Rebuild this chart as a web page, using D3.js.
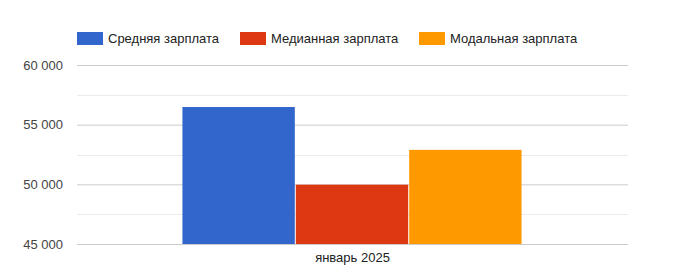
<!DOCTYPE html>
<html>
<head>
<meta charset="utf-8">
<script src="https://cdn.jsdelivr.net/npm/d3@7"></script>
<style>
  body { margin: 0; background: #fff; }
  svg { font-family: "Liberation Sans", Arial, sans-serif; }
</style>
</head>
<body>
<div id="chart"></div>
<script>
const categories = ['январь 2025'];
const seriesNames = ['Средняя зарплата', 'Медианная зарплата', 'Модальная зарплата'];
const seriesColors = ['#3366cc', '#dc3912', '#ff9900'];
const values = [[56480], [49970], [52890]];
const yTicks = [45000, 50000, 55000, 60000];
const yMinor = [47500, 52500, 57500];

const W = 693, H = 275;
const m = {top: 65, right: 65, bottom: 31, left: 77};
const w = W - m.left - m.right;
const h = H - m.top - m.bottom;

const svg = d3.select('#chart').append('svg')
  .attr('width', W).attr('height', H);

const g = svg.append('g').attr('transform', 'translate(' + m.left + ',' + m.top + ')');

const y = d3.scaleLinear().domain([45000, 60000]).range([h, 0]);
const x0 = d3.scaleBand().domain(categories).range([0, w]).paddingInner(0).paddingOuter(0.31);
const x1 = d3.scaleBand().domain(seriesNames).range([0, x0.bandwidth()]);

// minor grid
g.selectAll('.minor').data(yMinor).enter().append('line')
  .attr('x1', 0).attr('x2', w)
  .attr('y1', d => Math.round(y(d)) + 0.5).attr('y2', d => Math.round(y(d)) + 0.5)
  .attr('stroke', '#ebebeb');

// major grid via axis
const yAxis = d3.axisLeft(y).tickValues(yTicks).tickSize(-w).tickPadding(14)
  .tickFormat(d => d3.format(',')(d).replace(',', ' '));
const ya = g.append('g').call(yAxis);
ya.select('.domain').remove();
ya.selectAll('.tick line').attr('stroke', '#cccccc');
ya.selectAll('.tick text').attr('fill', '#444').style('font-size', '13px');

// bars
categories.forEach((c, ci) => {
  seriesNames.forEach((s, si) => {
    const v = values[si][ci];
    g.append('rect')
      .attr('x', x0(c) + x1(s))
      .attr('y', y(v))
      .attr('width', x1.bandwidth() - 1)
      .attr('height', y(45000) - y(v))
      .attr('fill', seriesColors[si]);
  });
});

// x axis labels
const xAxis = d3.axisBottom(x0).tickSize(0).tickPadding(9);
const xa = g.append('g').attr('transform', 'translate(0,' + h + ')').call(xAxis);
xa.select('.domain').remove();
xa.selectAll('.tick text').attr('fill', '#222').style('font-size', '13px');

// legend
const legendX = [77, 240, 419];
const lg = svg.append('g');
seriesNames.forEach((s, i) => {
  const it = lg.append('g').attr('transform', 'translate(' + legendX[i] + ',32)');
  it.append('rect').attr('width', 26).attr('height', 13).attr('fill', seriesColors[i]);
  it.append('text').attr('x', 31).attr('y', 11).attr('fill', '#222')
    .style('font-size', '13px').text(s);
});
</script>
</body>
</html>
